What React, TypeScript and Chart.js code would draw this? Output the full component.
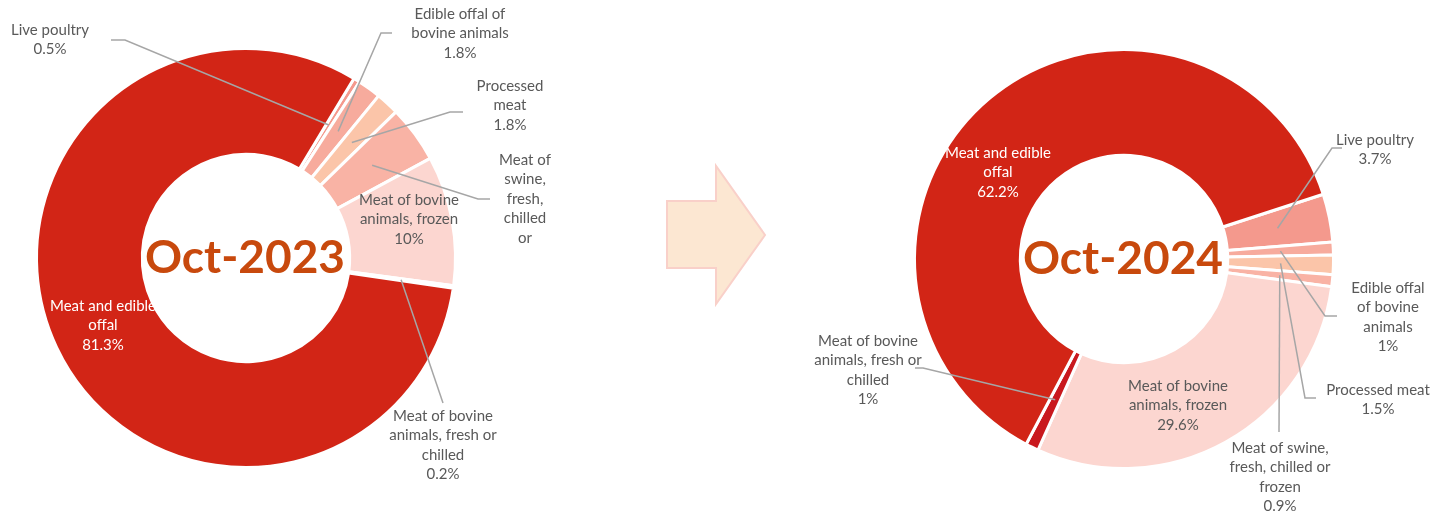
import React, { useEffect, useRef } from 'react';
import { Chart, registerables } from 'chart.js';

Chart.register(...registerables);

// ---------- data ----------
const categories = [
  'Live poultry',
  'Edible offal of bovine animals',
  'Processed meat',
  'Meat of swine, fresh, chilled or frozen',
  'Meat of bovine animals, frozen',
  'Meat of bovine animals, fresh or chilled',
  'Meat and edible offal',
];
const values2023 = [0.5, 1.8, 1.8, 4.4, 10, 0.2, 81.3];
const values2024 = [3.7, 1, 1.5, 0.9, 29.6, 1, 62.2];
const titles = ['Oct-2023', 'Oct-2024'];

// how each category name wraps in each chart's data label
const wrap2023 = [
  ['Live poultry'],
  ['Edible offal of', 'bovine animals'],
  ['Processed', 'meat'],
  ['Meat of', 'swine,', 'fresh,', 'chilled', 'or'],
  ['Meat of bovine', 'animals, frozen'],
  ['Meat of bovine', 'animals, fresh or', 'chilled'],
  ['Meat and edible', 'offal'],
];
const showValue2023 = [true, true, true, false, true, true, true];
const wrap2024 = [
  ['Live poultry'],
  ['Edible offal', 'of bovine', 'animals'],
  ['Processed meat'],
  ['Meat of swine,', 'fresh, chilled or', 'frozen'],
  ['Meat of bovine', 'animals, frozen'],
  ['Meat of bovine', 'animals, fresh or', 'chilled'],
  ['Meat and edible', 'offal'],
];
const showValue2024 = [true, true, true, true, true, true, true];

// ---------- styles / layout ----------
const sliceColors = ['#F4998D', '#F7AB9D', '#FBC5A9', '#F9B3A5', '#FCD6D0', '#C9191E', '#D22516'];
const textGray = '#595959';
const leaderGray = '#A6A6A6';
const titleColor = '#C8490D';

type LabelPos = { x: number; y: number; path?: number[][]; depth?: number; white?: boolean };

const layout2023: LabelPos[] = [
  { x: 50, y: 30, path: [[111, 40], [125, 40]] },
  { x: 460, y: 14, path: [[392, 33], [381, 33]] },
  { x: 510, y: 86, path: [[463, 112], [450, 112]] },
  { x: 525, y: 160, path: [[490, 199], [478, 199]] },
  { x: 409, y: 200 },
  { x: 443, y: 416, path: [[443, 403]] },
  { x: 103, y: 306, white: true },
];
const layout2024: LabelPos[] = [
  { x: 1375, y: 140, path: [[1342, 148], [1332, 148]] },
  { x: 1388, y: 288, path: [[1337, 316], [1325, 316]] },
  { x: 1378, y: 390, path: [[1316, 398], [1305, 398]] },
  { x: 1280, y: 448, path: [[1279, 432]] },
  { x: 1178, y: 386 },
  { x: 868, y: 341, path: [[915, 368], [923, 368]] },
  { x: 998, y: 153, white: true },
];

const LINE_H = 19.5;
const LABEL_FONT = '15px Lato';
const TITLE_FONT = 'bold 46px Lato';

function makeLabelPlugin(
  values: number[],
  wraps: string[][],
  showValues: boolean[],
  layout: LabelPos[],
  title: string
) {
  return {
    id: 'sliceLabels',
    afterDatasetsDraw(chart: any) {
      const ctx: CanvasRenderingContext2D = chart.ctx;
      const meta = chart.getDatasetMeta(0);
      ctx.save();
      meta.data.forEach((arc: any, i: number) => {
        const L = layout[i];
        if (!L || !L.path) return;
        const p = arc.getProps(['x', 'y', 'startAngle', 'endAngle', 'innerRadius', 'outerRadius'], true);
        const a = (p.startAngle + p.endAngle) / 2;
        const r = p.innerRadius + (p.outerRadius - p.innerRadius) * (L.depth ?? 0.5);
        ctx.beginPath();
        ctx.moveTo(L.path[0][0], L.path[0][1]);
        for (let k = 1; k < L.path.length; k++) ctx.lineTo(L.path[k][0], L.path[k][1]);
        ctx.lineTo(p.x + Math.cos(a) * r, p.y + Math.sin(a) * r);
        ctx.strokeStyle = leaderGray;
        ctx.lineWidth = 1.5;
        ctx.stroke();
      });
      ctx.font = LABEL_FONT;
      ctx.textAlign = 'center';
      ctx.textBaseline = 'middle';
      layout.forEach((L, i) => {
        const lines = [...wraps[i]];
        if (showValues[i]) lines.push(`${values[i]}%`);
        ctx.fillStyle = L.white ? '#FFFFFF' : textGray;
        lines.forEach((t, k) => ctx.fillText(t, L.x, L.y + k * LINE_H));
      });
      ctx.restore();
    },
    afterDraw(chart: any) {
      const ctx: CanvasRenderingContext2D = chart.ctx;
      const arc = chart.getDatasetMeta(0).data[0];
      if (!arc) return;
      const p = arc.getProps(['x', 'y'], true);
      ctx.save();
      ctx.font = TITLE_FONT;
      ctx.textAlign = 'center';
      ctx.textBaseline = 'alphabetic';
      ctx.fillStyle = titleColor;
      ctx.fillText(title, p.x - 1, p.y + 15);
      ctx.restore();
    },
  };
}

type DonutProps = {
  values: number[];
  wraps: string[][];
  showValues: boolean[];
  layout: LabelPos[];
  title: string;
  rotation: number;
  padding: { left: number; top: number; right: number; bottom: number };
};

function Donut({ values, wraps, showValues, layout, title, rotation, padding }: DonutProps) {
  const ref = useRef<HTMLCanvasElement>(null);
  useEffect(() => {
    if (!ref.current) return;
    const chart = new Chart(ref.current, {
      type: 'doughnut',
      data: {
        labels: categories,
        datasets: [
          {
            data: values,
            backgroundColor: sliceColors,
            borderColor: '#FFFFFF',
            borderWidth: 3,
            hoverOffset: 0,
          },
        ],
      },
      options: {
        responsive: false,
        animation: false,
        events: [],
        rotation,
        cutout: '49.5%',
        layout: { padding },
        plugins: { legend: { display: false }, tooltip: { enabled: false } },
      },
      plugins: [makeLabelPlugin(values, wraps, showValues, layout, title)],
    } as any);
    return () => chart.destroy();
  }, []);
  return (
    <canvas
      ref={ref}
      width={1435}
      height={517}
      style={{ position: 'absolute', left: 0, top: 0, width: 1435, height: 517 }}
    />
  );
}

export default function App() {
  useEffect(() => {
    document.body.style.margin = '0';
    document.body.style.background = '#FFFFFF';
  }, []);
  return (
    <div style={{ position: 'absolute', left: 0, top: 0, width: 1435, height: 517, background: '#FFFFFF', overflow: 'hidden' }}>
      <svg width={1435} height={517} style={{ position: 'absolute', left: 0, top: 0 }}>
        <polygon
          points="667,201 716,201 716,166 765,235 716,304 716,268 667,268"
          fill="#FCE7D2"
          stroke="#F9D0C9"
          strokeWidth={2}
        />
      </svg>
      <Donut
        values={values2023}
        wraps={wrap2023}
        showValues={showValue2023}
        layout={layout2023}
        title={titles[0]}
        rotation={31}
        padding={{ left: 35, top: 47, right: 978, bottom: 48 }}
      />
      <Donut
        values={values2024}
        wraps={wrap2024}
        showValues={showValue2024}
        layout={layout2024}
        title={titles[1]}
        rotation={72}
        padding={{ left: 913, top: 48, right: 100, bottom: 47 }}
      />
    </div>
  );
}
